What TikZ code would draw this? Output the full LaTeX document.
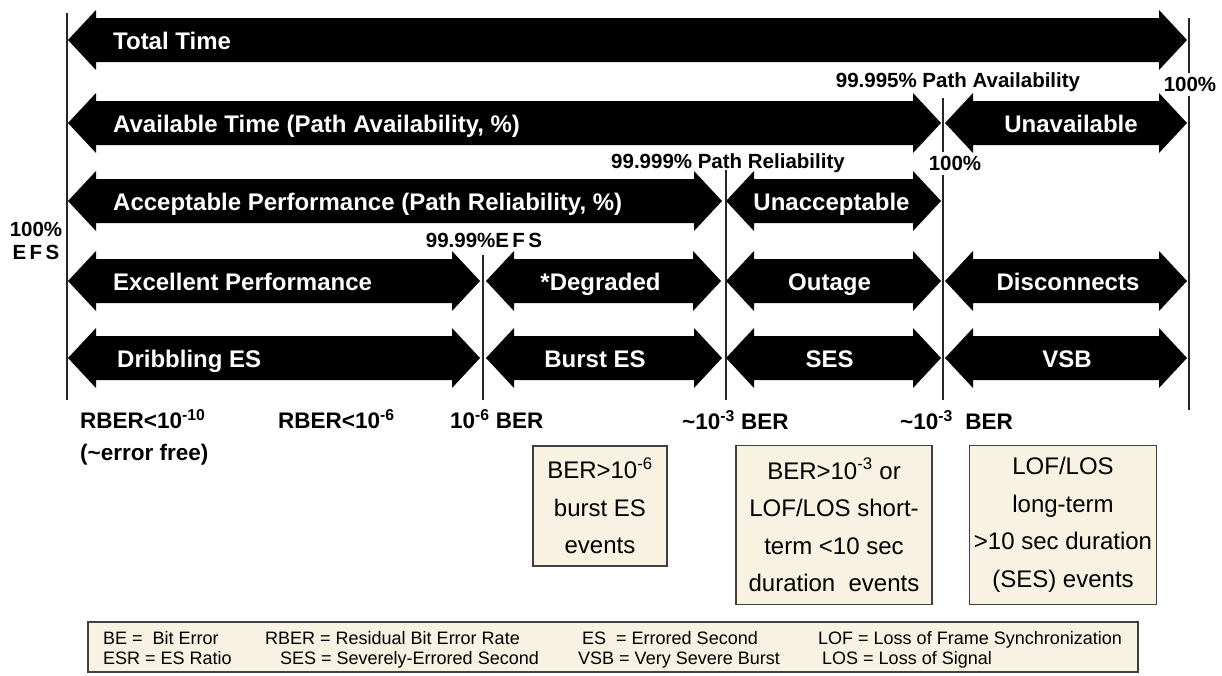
\documentclass[tikz,border=0pt]{standalone}
\usepackage{fontspec}
\setmainfont{Liberation Sans}
\usetikzlibrary{positioning}

\definecolor{boxbg}{RGB}{247,242,225}

% double headed block arrow: name, left tip, right tip, centre line
\newcommand{\blockarrow}[4]{%
  \fill (#2,#4) -- (#2+28,#4-30) -- (#2+28,#4-22) -- (#3-28,#4-22)
    -- (#3-28,#4-30) -- (#3,#4) -- (#3-28,#4+30) -- (#3-28,#4+22)
    -- (#2+28,#4+22) -- (#2+28,#4+30) -- cycle;
  \coordinate (#1) at ({(#2+#3)/2},#4+1);
  \coordinate (#1w) at (#2,#4+1);}

\begin{document}
\begin{tikzpicture}[x=1pt,y=-1pt,
    lbl/.style={text=white,font=\fontsize{24}{26}\selectfont\bfseries,inner sep=0,
      text height=17.2,text depth=0},
    tag/.style={font=\fontsize{20.5}{24}\selectfont\bfseries,inner sep=0,
      text height=14.7,text depth=0},
    ber/.style={font=\fontsize{22.5}{32}\selectfont\bfseries,inner sep=0,anchor=west,
      text height=16.1,text depth=0},
    evbox/.style={draw=black!75,fill=boxbg,line width=1.3,align=center,
      font=\fontsize{24}{37.5}\selectfont,inner sep=0},
    key/.style={font=\fontsize{18}{20}\selectfont,anchor=west,inner sep=0,
      text height=12.9,text depth=0},
    rule/.style={draw=black!85,line width=1.2}]
  \useasboundingbox (0,0) rectangle (1222,675);

  % rows of arrows
  \blockarrow{total}{68}{1187}{40}
  \blockarrow{avail}{68}{941}{123}
  \blockarrow{unavail}{945}{1187}{123}
  \blockarrow{accept}{68}{722}{201}
  \blockarrow{unaccept}{726}{941}{201}
  \blockarrow{excel}{68}{480}{281}
  \blockarrow{degr}{486}{721}{281}
  \blockarrow{outage}{726}{941}{281}
  \blockarrow{disc}{945}{1187}{281}
  \blockarrow{dribble}{68}{480}{358}
  \blockarrow{burst}{486}{722}{358}
  \blockarrow{ses}{726}{941}{358}
  \blockarrow{vsb}{945}{1187}{358}

  \node[lbl,anchor=west] (ttot) at ([xshift=45]totalw) {Total Time};
  \node[lbl,anchor=west] (tav) at ([xshift=45]availw) {Available Time (Path Availability, \%)};
  \node[lbl] (tunav) at ([xshift=5]unavail) {Unavailable};
  \node[lbl,anchor=west] (tacc) at ([xshift=45]acceptw) {Acceptable Performance (Path Reliability, \%)};
  \node[lbl] (tunacc) at ([xshift=-2]unaccept) {Unacceptable};
  \node[lbl,anchor=west] (texc) at ([xshift=45]excelw) {Excellent Performance};
  \node[lbl] (tdeg) at ([xshift=-3]degr) {*Degraded};
  \node[lbl] (tout) at ([xshift=-4]outage) {Outage};
  \node[lbl] (tdis) at ([xshift=2]disc) {Disconnects};
  \node[lbl,anchor=west] (tdri) at ([xshift=49]dribblew) {Dribbling ES};
  \node[lbl] (tbur) at ([xshift=-9]burst) {Burst ES};
  \node[lbl] (tses) at ([xshift=-4]ses) {SES};
  \node[lbl] (tvsb) at ([xshift=1]vsb) {VSB};

  % percentage marks
  \node[tag] (pava) at (958,80) {99.995\% Path Availability};
  \node[tag] (prel) at (728,161) {99.999\% Path Reliability};
  \node[tag] (p100r) at (1190,84) {100\%};
  \node[tag] (p100m) at (955,163) {100\%};
  \node[tag] (p100l) at (36,229) {100\%};
  \node[tag] (pefsl) at (36,252) {E\,F\,S};
  \node[tag] (pefs) at (484,240) {99.99\%E\,F\,S};

  % dividing lines
  \coordinate (l0t) at (67,13);   \coordinate (l0b) at (67,400);
  \coordinate (l1t) at (483,255); \coordinate (l1b) at (483,400);
  \coordinate (l2t) at (726,170); \coordinate (l2b) at (726,400);
  \coordinate (l3t) at (943,98);  \coordinate (l3b) at (943,400);
  \coordinate (l4t) at (1189,18); \coordinate (l4b) at (1189,410);
  \draw[rule] (l0t) -- (l0b);
  \draw[rule] (l1t) -- (l1b);
  \draw[rule] (l2t) -- (l2b);
  \draw[rule] (l3t) -- ([yshift=3]l3t |- p100m.north);
  \draw[rule] ([yshift=-4]l3t |- p100m.south) -- (l3b);
  \draw[rule] (l4t) -- ([yshift=3]l4t |- p100r.north);
  \draw[rule] ([yshift=-4]l4t |- p100r.south) -- (l4b);

  % BER thresholds
  \node[ber] (b1) at (80,420) {RBER<10\textsuperscript{-10}};
  \node[ber] (b1a) at (80,452) {(\textasciitilde error free)};
  \node[ber] (b2) at (278,420) {RBER<10\textsuperscript{-6}};
  \node[ber] (b3) at (450,420) {10\textsuperscript{-6} BER};
  \node[ber] (b4) at (682,421) {\textasciitilde 10\textsuperscript{-3} BER};
  \node[ber] (b5) at (900,421) {\textasciitilde 10\textsuperscript{-3}\ \ BER};

  % event boxes
  \node[evbox,minimum width=134,minimum height=120] (ev1) at (600,506)
    {BER>10\textsuperscript{-6}\\burst ES\\events};
  \node[evbox,minimum width=196,minimum height=159] (ev2) at (834,525)
    {BER>10\textsuperscript{-3} or\\LOF/LOS short-\\term <10 sec\\duration\ \ events};
  \node[evbox,minimum width=187,minimum height=159] (ev3) at (1063,525)
    {LOF/LOS\\long-term\\>10 sec duration\\(SES) events};

  % legend
  \node[draw=black!75,fill=boxbg,line width=1.3,minimum width=1050,minimum height=50,inner sep=0]
    (legend) at (613,647) {};
  \node[key] (k1) at (103,638) {BE =\ \ Bit Error};
  \node[key] (k2) at (265,638) {RBER = Residual Bit Error Rate};
  \node[key] (k3) at (582,638) {ES\ \ = Errored Second};
  \node[key] (k4) at (818,638) {LOF = Loss of Frame Synchronization};
  \node[key] (k5) at (103,658) {ESR = ES Ratio};
  \node[key] (k6) at (280,658) {SES = Severely-Errored Second};
  \node[key] (k7) at (578,658) {VSB = Very Severe Burst};
  \node[key] (k8) at (822,658) {LOS = Loss of Signal};
\end{tikzpicture}
\end{document}
